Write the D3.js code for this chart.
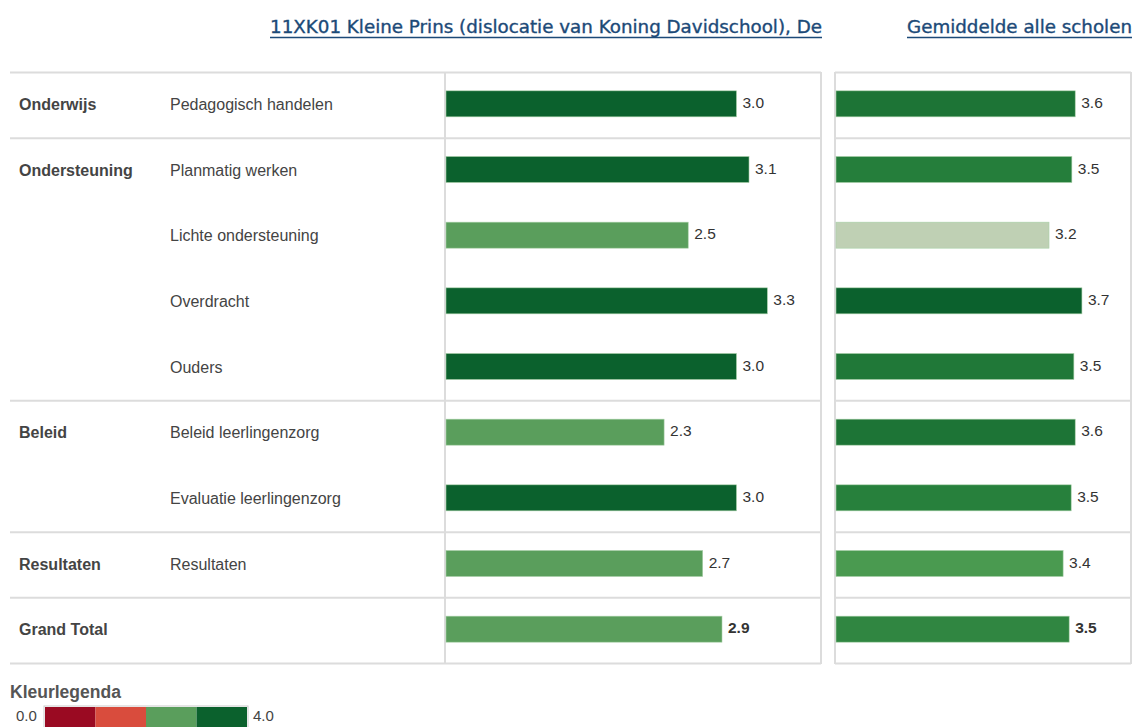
<!DOCTYPE html>
<html><head><meta charset="utf-8">
<script src="https://cdn.jsdelivr.net/npm/d3@7"></script>
<style>body{margin:0;background:#fff;} svg{display:block;}</style>
</head><body>
<script>
// ---- data ----
const groups = ["Onderwijs","Ondersteuning","Ondersteuning","Ondersteuning","Ondersteuning","Beleid","Beleid","Resultaten","Grand Total"];
const items = ["Pedagogisch handelen","Planmatig werken","Lichte ondersteuning","Overdracht","Ouders","Beleid leerlingenzorg","Evaluatie leerlingenzorg","Resultaten",""];
const schoolValues = [3.01, 3.14, 2.51, 3.33, 3.01, 2.26, 3.01, 2.66, 2.86];
const avgValues = [3.56, 3.51, 3.17, 3.66, 3.54, 3.56, 3.50, 3.38, 3.47];
const titleSchool = "11XK01 Kleine Prins (dislocatie van Koning Davidschool), De";
const titleAvg = "Gemiddelde alle scholen";
const legendTitle = "Kleurlegenda";
const legendStops = [0, 1, 2, 3, 4];
const legendMin = "0.0", legendMax = "4.0";

const W = 1134, H = 727;
const svg = d3.select("body").append("svg").attr("width", W).attr("height", H);
const font = "'Liberation Sans', Arial, sans-serif";

const y = d3.scaleBand().domain(d3.range(items.length)).range([72, 663]);
const xL = d3.scaleLinear().domain([0, 3.886]).range([446, 821]);
const xR = d3.scaleLinear().domain([0, 4.42]).range([836, 1133]);

const stepColor = d3.scaleThreshold().domain([1, 2, 3]).range(["#9a0a22", "#d94c3d", "#5a9e5c", "#0b612d"]);
const avgColor = d3.scaleLinear().domain([3.17, 3.38, 3.5, 3.66]).range(["#bfd0b4", "#4a9a50", "#27803c", "#0b612d"]);
const fmt = d3.format(".1f");

const isGroupStart = groups.map((g, i) => i === 0 || groups[i - 1] !== g);
const lineC = "#dcdcdc";

const hl = [];
isGroupStart.forEach((s, i) => { if (s) hl.push(y(i)); });
hl.push(y.range()[1]);
hl.forEach(v => {
  svg.append("line").attr("x1", 10).attr("x2", 821).attr("y1", v + 0.5).attr("y2", v + 0.5).attr("stroke", lineC).attr("stroke-width", 2);
  svg.append("line").attr("x1", 835).attr("x2", 1131).attr("y1", v + 0.5).attr("y2", v + 0.5).attr("stroke", lineC).attr("stroke-width", 2);
});
[[445, 72, 663], [821, 72, 663], [835, 72, 663], [1131, 72, 663]].forEach(([x, a, b]) => {
  svg.append("line").attr("x1", x).attr("x2", x).attr("y1", a).attr("y2", b + 1).attr("stroke", lineC).attr("stroke-width", 2);
});

function title(txt, xEnd, len) {
  svg.append("text").attr("x", xEnd).attr("y", 33).attr("text-anchor", "end")
    .attr("font-family", "'DejaVu Sans', Tahoma, sans-serif").attr("font-size", 17).attr("fill", "#1c4a78")
    .attr("stroke", "#1c4a78").attr("stroke-width", 0.35)
    .attr("textLength", len).attr("lengthAdjust", "spacingAndGlyphs").text(txt);
  svg.append("line").attr("x1", xEnd - len).attr("x2", xEnd).attr("y1", 37.5).attr("y2", 37.5).attr("stroke", "#1c4a78").attr("stroke-width", 1.6);
}
title(titleSchool, 822, 552);
title(titleAvg, 1132, 225);

const bh = y.bandwidth();
const groupIdx = d3.range(groups.length).filter(i => isGroupStart[i]);
svg.selectAll(".g").data(groupIdx).enter().append("text")
  .attr("x", 19).attr("y", i => y(i) + bh / 2 + 5)
  .attr("font-family", font).attr("font-size", 16).attr("font-weight", "bold").attr("fill", "#444").text(i => groups[i]);

svg.selectAll(".it").data(items).enter().append("text")
  .attr("x", 170).attr("y", (d, i) => y(i) + bh / 2 + 5)
  .attr("font-family", font).attr("font-size", 16).attr("fill", "#444").text(d => d);

const barH = 26;
function bars(vals, x, color) {
  const g = svg.append("g");
  g.selectAll("rect").data(vals).enter().append("rect")
    .attr("x", x(0)).attr("y", (d, i) => y(i) + bh / 2 - barH / 2 - 1)
    .attr("width", d => x(d) - x(0)).attr("height", barH)
    .attr("fill", d => color(d)).attr("stroke", "#a8cfa8").attr("stroke-width", 0.6);
  g.selectAll("text").data(vals).enter().append("text")
    .attr("x", d => x(d) + 6).attr("y", (d, i) => y(i) + bh / 2 + 3)
    .attr("font-family", font).attr("font-size", 15.5).attr("fill", "#333")
    .attr("font-weight", (d, i) => i === vals.length - 1 ? "bold" : "normal")
    .text(d => fmt(d));
}
bars(schoolValues, xL, stepColor);
bars(avgValues, xR, avgColor);

svg.append("text").attr("x", 10).attr("y", 698).attr("font-family", font).attr("font-size", 17.5).attr("font-weight", "bold").attr("fill", "#555").text(legendTitle);
const xLeg = d3.scaleLinear().domain([0, 4]).range([45, 247]);
svg.append("rect").attr("x", 44).attr("y", 706).attr("width", 204).attr("height", 25).attr("fill", "none").attr("stroke", "#ccc");
svg.selectAll(".lg").data(legendStops.slice(0, -1)).enter().append("rect")
  .attr("x", d => xLeg(d)).attr("y", 707).attr("width", d => xLeg(d + 1) - xLeg(d)).attr("height", 24)
  .attr("fill", d => stepColor(d + 0.5));
svg.append("text").attr("x", 16).attr("y", 721).attr("font-family", font).attr("font-size", 15).attr("fill", "#444").text(legendMin);
svg.append("text").attr("x", 253).attr("y", 721).attr("font-family", font).attr("font-size", 15).attr("fill", "#444").text(legendMax);
</script>
</body></html>
